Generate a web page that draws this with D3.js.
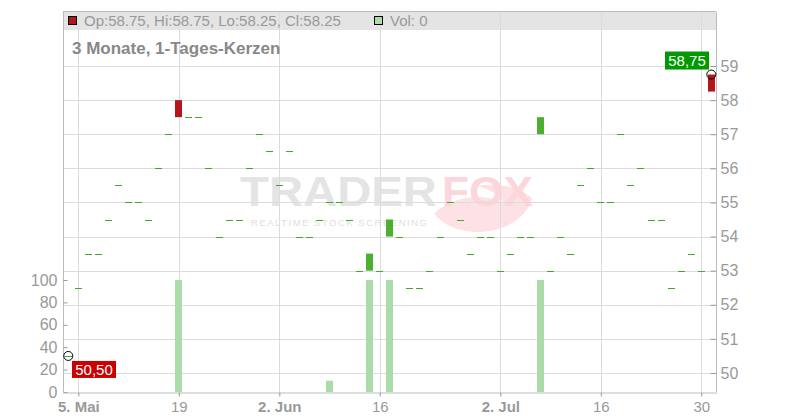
<!DOCTYPE html>
<html><head><meta charset="utf-8">
<script src="https://cdn.jsdelivr.net/npm/d3@7"></script>
<style>html,body{margin:0;padding:0;background:#fff;}svg{display:block;font-family:"Liberation Sans",Arial,sans-serif;}</style>
</head><body><svg id="c" width="800" height="420"></svg>
<script>
const dates = [
 "2025-05-02","2025-05-05","2025-05-06","2025-05-07","2025-05-08","2025-05-09","2025-05-12","2025-05-13","2025-05-14","2025-05-15","2025-05-16",
 "2025-05-19","2025-05-20","2025-05-21","2025-05-22","2025-05-23","2025-05-26","2025-05-27","2025-05-28","2025-05-29","2025-05-30",
 "2025-06-02","2025-06-03","2025-06-04","2025-06-05","2025-06-06","2025-06-09","2025-06-10","2025-06-11","2025-06-12","2025-06-13",
 "2025-06-16","2025-06-17","2025-06-18","2025-06-19","2025-06-20","2025-06-23","2025-06-24","2025-06-25","2025-06-26","2025-06-27","2025-06-30",
 "2025-07-01","2025-07-02","2025-07-03","2025-07-04","2025-07-07","2025-07-08","2025-07-09","2025-07-10","2025-07-11",
 "2025-07-14","2025-07-15","2025-07-16","2025-07-17","2025-07-18","2025-07-21","2025-07-22","2025-07-23","2025-07-24","2025-07-25",
 "2025-07-28","2025-07-29","2025-07-30","2025-07-31"];
const opens = [50.5,52.5,53.5,53.5,54.5,55.5,55,55,54.5,56,57,
 58,57.5,57.5,56,54,54.5,54.5,56,57,56.5,
 55.5,56.5,54,54,54.5,55,55,54.5,53,53,
 53,54,54,52.5,52.5,53,54,55,54.5,53.5,54,
 54,53,53.5,54,54,57,53,54,53.5,
 55.5,56,55,55,57,55.5,56,54.5,54.5,52.5,
 53,53.5,53,58.75];
const closes = [50.5,52.5,53.5,53.5,54.5,55.5,55,55,54.5,56,57,
 57.5,57.5,57.5,56,54,54.5,54.5,56,57,56.5,
 55.5,56.5,54,54,54.5,55,55,54.5,53,53.5,
 53,54.5,54,52.5,52.5,53,54,55,54.5,53.5,54,
 54,53,53.5,54,54,57.5,53,54,53.5,
 55.5,56,55,55,57,55.5,56,54.5,54.5,52.5,
 53,53.5,53,58.25];
const volumes = [0,0,0,0,0,0,0,0,0,0,0,
 100,0,0,0,0,0,0,0,0,0,
 0,0,0,0,0,10,0,0,0,100,
 0,100,0,0,0,0,0,0,0,0,0,
 0,0,0,0,0,100,0,0,0,
 0,0,0,0,0,0,0,0,0,0,
 0,0,0,0];
const priceTicks = [50,51,52,53,54,55,56,57,58,59];
const volTicks = [0,20,40,60,80,100];
const xTickDates = ["2025-05-05","2025-05-19","2025-06-02","2025-06-16","2025-07-02","2025-07-16","2025-07-30"];
const xTickLabels = ["5. Mai","19","2. Jun","16","2. Jul","16","30"];
const xTickBold = [true,false,true,false,true,false,false];
const legendText = "Op:58.75, Hi:58.75, Lo:58.25, Cl:58.25";
const volText = "Vol: 0";
const titleText = "3 Monate, 1-Tages-Kerzen";
const minLabel = "50,50", maxLabel = "58,75";

const svg = d3.select("#c");
const L = 63, R = 716, T = 12, B = 392;
const x = d3.scaleLinear().domain([0, dates.length - 1]).range([68.3, 711.3]);
const y = d3.scaleLinear().domain([50, 59]).range([373, 66]);
const yv = d3.scaleLinear().domain([0, 100]).range([392, 280]);
const idx = d => dates.indexOf(d);
const grid = "#dcdcdc", axisC = "#bbbbbb", txt = "#999999";

// header band
svg.append("rect").attr("x", L).attr("y", T).attr("width", R - L).attr("height", 18).attr("fill", "#e4e4e4");

// watermark
const wm = svg.append("g");
wm.append("text").attr("x", 240).attr("y", 206).attr("font-size", 42).attr("font-weight", "bold")
  .attr("textLength", 197).attr("lengthAdjust", "spacingAndGlyphs").attr("fill", "#e4e4e4").text("TRADER");
wm.append("path").attr("d", "M434,214 C450,198 478,192 503,202 C496,192 486,188 476,186 C500,182 520,188 532,198 C528,216 508,230 482,232 C462,233 444,226 434,214 Z")
  .attr("fill", "#fde1e4");
wm.append("text").attr("x", 442).attr("y", 206).attr("font-size", 42).attr("font-weight", "bold")
  .attr("textLength", 91).attr("lengthAdjust", "spacingAndGlyphs").attr("fill", "#fcd6da").text("FOX");
wm.append("text").attr("x", 251).attr("y", 225.5).attr("font-size", 9.5)
  .attr("textLength", 176).attr("lengthAdjust", "spacing").attr("fill", "#e0e0e0").text("REALTIME STOCK SCREENING");

// grid
svg.append("g").selectAll("line").data(priceTicks).join("line")
  .attr("x1", L).attr("x2", R).attr("y1", d => Math.round(y(d)) + 0.5).attr("y2", d => Math.round(y(d)) + 0.5)
  .attr("stroke", grid);
svg.append("g").selectAll("line").data(xTickDates).join("line")
  .attr("x1", d => Math.round(x(idx(d))) + 0.5).attr("x2", d => Math.round(x(idx(d))) + 0.5)
  .attr("y1", T).attr("y2", B).attr("stroke", grid);

// volume bars
const bw = 7;
svg.append("g").selectAll("rect").data(volumes.map((v, i) => ({v, i})).filter(d => d.v > 0)).join("rect")
  .attr("x", d => Math.round(x(d.i) - bw / 2)).attr("width", bw)
  .attr("y", d => yv(d.v)).attr("height", d => yv(0) - yv(d.v)).attr("fill", "#a9dca9");

// candles
const candles = dates.map((d, i) => ({i, o: opens[i], c: closes[i]}));
svg.append("g").selectAll("rect").data(candles).join("rect")
  .attr("x", d => Math.round(x(d.i) - bw / 2)).attr("width", bw)
  .attr("y", d => d.o === d.c ? Math.round(y(d.c)) : y(Math.max(d.o, d.c)))
  .attr("height", d => d.o === d.c ? 1 : Math.abs(y(d.o) - y(d.c)))
  .attr("fill", d => d.c > d.o ? "#4caf32" : d.c < d.o ? "#b5161b" : "#44aa22");

// frame / axes
svg.append("line").attr("x1", L + 0.5).attr("x2", L + 0.5).attr("y1", T).attr("y2", B).attr("stroke", axisC);
svg.append("line").attr("x1", R + 0.5).attr("x2", R + 0.5).attr("y1", T).attr("y2", B).attr("stroke", axisC);
svg.append("line").attr("x1", L).attr("x2", R).attr("y1", T - 0.5).attr("y2", T - 0.5).attr("stroke", axisC);

const ra = svg.append("g").attr("transform", `translate(${R + 0.5},0)`)
  .call(d3.axisRight(y).tickValues(priceTicks).tickSize(-6).tickPadding(4).tickFormat(d3.format("d")));
ra.select(".domain").remove();
ra.selectAll("line").attr("stroke", "#999");
ra.selectAll("text").attr("fill", txt).attr("font-size", 16).attr("font-family", "Liberation Sans, Arial, sans-serif");

const la = svg.append("g").attr("transform", `translate(${L + 0.5},0)`)
  .call(d3.axisLeft(yv).tickValues(volTicks).tickSize(-4).tickPadding(6).tickFormat(d3.format("d")));
la.select(".domain").remove();
la.selectAll("line").attr("stroke", "#999");
la.selectAll("text").attr("fill", txt).attr("font-size", 16).attr("font-family", "Liberation Sans, Arial, sans-serif");

const ba = svg.append("g").attr("transform", `translate(0,${B + 0.5})`)
  .call(d3.axisBottom(x).tickValues(xTickDates.map(idx)).tickSize(4).tickPadding(5)
    .tickFormat((d, i) => xTickLabels[i]));
ba.select(".domain").attr("d", `M${L},0.5H${R + 1}`).attr("stroke", axisC);
ba.selectAll("line").attr("stroke", "#999");
ba.selectAll("text").attr("fill", txt).attr("font-size", 15).attr("font-family", "Liberation Sans, Arial, sans-serif")
  .attr("font-weight", (d, i) => xTickBold[i] ? "bold" : "normal");

// legend
svg.append("rect").attr("x", 68.5).attr("y", 16.5).attr("width", 8).attr("height", 8).attr("fill", "#b5161b").attr("stroke", "#000");
svg.append("text").attr("x", 84).attr("y", 26).attr("font-size", 15).attr("fill", txt).text(legendText);
svg.append("rect").attr("x", 374.5).attr("y", 16.5).attr("width", 8).attr("height", 8).attr("fill", "#a9dca9").attr("stroke", "#000");
svg.append("text").attr("x", 390).attr("y", 26).attr("font-size", 15).attr("fill", txt).text(volText);

// title
svg.append("text").attr("x", 72).attr("y", 54).attr("font-size", 17).attr("font-weight", "bold").attr("fill", "#888").text(titleText);

// min/max markers
const minI = 0, maxI = dates.length - 1;
svg.append("circle").attr("cx", x(minI)).attr("cy", y(closes[minI])).attr("r", 4.5).attr("fill", "none").attr("stroke", "#000");
svg.append("circle").attr("cx", x(maxI)).attr("cy", y(opens[maxI])).attr("r", 4.5).attr("fill", "none").attr("stroke", "#000");
const mn = svg.append("g").attr("transform", `translate(${x(minI) + 3.7},${y(closes[minI]) + 5})`);
mn.append("rect").attr("width", 44).attr("height", 17).attr("fill", "#cc0000");
mn.append("text").attr("x", 22).attr("y", 14).attr("text-anchor", "middle").attr("font-size", 15).attr("fill", "#fff").text(minLabel);
const mx = svg.append("g").attr("transform", `translate(${x(maxI) - 46.3},${y(opens[maxI]) - 23})`);
mx.append("rect").attr("width", 44).attr("height", 18).attr("fill", "#009900");
mx.append("text").attr("x", 22).attr("y", 14.5).attr("text-anchor", "middle").attr("font-size", 15).attr("fill", "#fff").text(maxLabel);
</script></body></html>
